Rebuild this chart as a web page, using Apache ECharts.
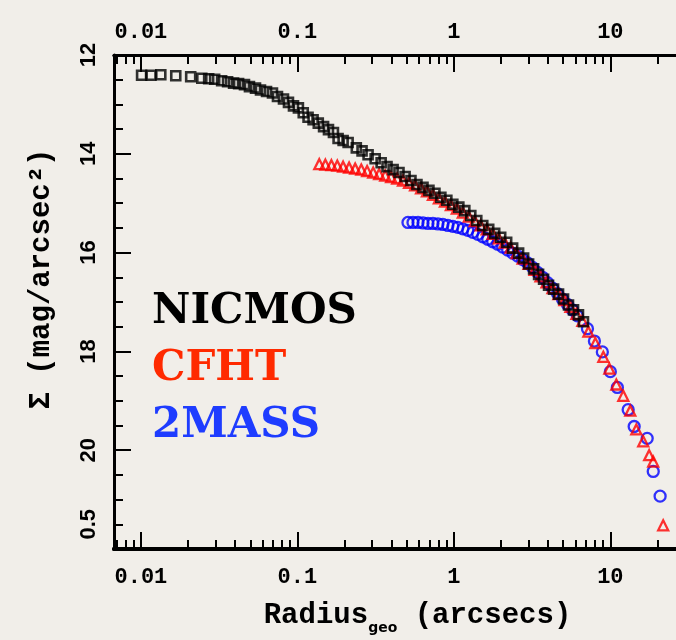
<!DOCTYPE html>
<html>
<head>
<meta charset="utf-8">
<script src="https://cdn.jsdelivr.net/npm/echarts@6/dist/echarts.min.js"></script>
<style>
  html, body { margin: 0; padding: 0; overflow: hidden; background: #f1eee9; }
  #chart { width: 700px; height: 640px; }
</style>
</head>
<body>
<div id="chart"></div>
<script>
// radius (arcsec) and surface brightness (mag/arcsec^2)
const nicmosR = [0.0101, 0.0116, 0.0134, 0.0167, 0.0208, 0.0245, 0.0271, 0.0296, 0.0328, 0.0358,
  0.0391, 0.0421, 0.0459, 0.0494, 0.0540, 0.0581, 0.0635, 0.0693, 0.0746, 0.0815,
  0.0877, 0.0944, 0.1015, 0.109, 0.117, 0.126, 0.136, 0.147, 0.158, 0.170,
  0.182, 0.196, 0.211, 0.238, 0.259, 0.283, 0.314, 0.343, 0.374, 0.409,
  0.446, 0.488, 0.532, 0.581, 0.635, 0.693, 0.757, 0.826, 0.902, 0.985,
  1.076, 1.175, 1.283, 1.401, 1.530, 1.670, 1.824, 1.992, 2.175, 2.375,
  2.593, 2.791, 3.004, 3.233, 3.479, 3.744, 4.029, 4.336, 4.666, 5.021,
  5.403, 5.815, 6.258, 6.734]
const nicmosMu = [12.41, 12.41, 12.40, 12.42, 12.44, 12.47, 12.48, 12.49, 12.52, 12.54,
  12.57, 12.58, 12.60, 12.64, 12.67, 12.71, 12.74, 12.77, 12.84, 12.89,
  12.96, 13.03, 13.07, 13.17, 13.26, 13.31, 13.38, 13.45, 13.51, 13.57,
  13.69, 13.73, 13.77, 13.88, 13.94, 14.02, 14.10, 14.18, 14.26, 14.32,
  14.38, 14.46, 14.54, 14.62, 14.68, 14.74, 14.80, 14.88, 14.94, 15.02,
  15.08, 15.15, 15.25, 15.35, 15.45, 15.53, 15.61, 15.69, 15.79, 15.91,
  16.01, 16.11, 16.23, 16.33, 16.44, 16.54, 16.66, 16.74, 16.84, 16.94,
  17.06, 17.16, 17.26, 17.40]

const cfhtR = [0.138, 0.151, 0.165, 0.180, 0.196, 0.214, 0.234, 0.256, 0.279, 0.305,
  0.333, 0.364, 0.397, 0.434, 0.473, 0.517, 0.565, 0.617, 0.673, 0.735,
  0.802, 0.877, 0.957, 1.045, 1.141, 1.246, 1.360, 1.486, 1.622, 1.772,
  1.934, 2.113, 2.306, 2.518, 2.750, 3.003, 3.279, 3.580, 3.910, 4.270,
  4.662, 5.090, 5.558, 6.069, 6.627, 7.24, 8.02, 9.02, 9.86, 10.92,
  12.10, 13.41, 14.65, 16.22, 17.71, 18.79, 21.76]
const cfhtMu = [14.21, 14.22, 14.23, 14.24, 14.26, 14.28, 14.30, 14.32, 14.35, 14.38,
  14.41, 14.44, 14.47, 14.50, 14.54, 14.59, 14.64, 14.70, 14.76, 14.83,
  14.90, 14.97, 15.04, 15.11, 15.19, 15.27, 15.36, 15.45, 15.53, 15.62,
  15.71, 15.80, 15.90, 16.01, 16.12, 16.23, 16.35, 16.48, 16.60, 16.72,
  16.84, 16.96, 17.10, 17.24, 17.38, 17.60, 17.83, 18.11, 18.35, 18.67,
  18.90, 19.20, 19.58, 19.82, 20.10, 20.23, 21.52]

const twomassR = [0.509, 0.548, 0.590, 0.635, 0.683, 0.735, 0.791, 0.851, 0.916, 0.985,
  1.060, 1.141, 1.228, 1.321, 1.422, 1.530, 1.647, 1.772, 1.907, 2.052,
  2.208, 2.375, 2.556, 2.750, 2.959, 3.185, 3.427, 3.688, 3.968, 4.270,
  4.595, 4.944, 5.320, 5.725, 6.160, 7.14, 7.91, 8.89, 10.0, 11.09,
  13.0, 14.2, 17.2, 18.8, 20.8]
const twomassMu = [15.39, 15.39, 15.39, 15.40, 15.41, 15.41, 15.42, 15.43, 15.45, 15.47,
  15.49, 15.52, 15.55, 15.59, 15.63, 15.68, 15.73, 15.78, 15.83, 15.89,
  15.95, 16.01, 16.07, 16.14, 16.21, 16.30, 16.40, 16.50, 16.61, 16.72,
  16.83, 16.94, 17.05, 17.16, 17.28, 17.54, 17.79, 18.01, 18.41, 18.73,
  19.18, 19.52, 19.76, 20.43, 20.93]

const minorR = [0.007, 0.008, 0.009, 0.02, 0.03, 0.04, 0.05, 0.06, 0.07, 0.08, 0.09,
  0.2, 0.3, 0.4, 0.5, 0.6, 0.7, 0.8, 0.9, 2, 3, 4, 5, 6, 7, 8, 9, 20]
const muLabels = [12, 14, 16, 18, 20, 21.5]

const xMin = 0.00673
const xMax = 30
const monoFont = '"Liberation Mono", "DejaVu Sans Mono", monospace'

function pairs(xs, ys) {
  return xs.map((x, i) => [x, ys[i]])
}

function logAxis(position, major) {
  return {
    type: 'log',
    position,
    min: xMin,
    max: xMax,
    axisLine: { show: true, lineStyle: { color: '#000', width: position === 'bottom' ? 4 : 3 } },
    axisTick: major
      ? { show: true, inside: true, length: 17, lineStyle: { color: '#000', width: 2 } }
      : { show: true, inside: true, length: 9, customValues: minorR, lineStyle: { color: '#000', width: 2 } },
    axisLabel: major
      ? {
          show: true,
          showMinLabel: false,
          showMaxLabel: false,
          margin: position === 'bottom' ? 17 : 12,
          color: '#000',
          fontSize: 22,
          fontWeight: 'bold',
          fontFamily: monoFont
        }
      : { show: false },
    splitLine: { show: false }
  }
}

const chart = echarts.init(document.getElementById('chart'))

const bottomAxis = logAxis('bottom', true)
bottomAxis.name = '{m|Radius}{s|geo}{m| (arcsecs)}'
bottomAxis.nameLocation = 'middle'
bottomAxis.nameGap = 48
bottomAxis.nameTextStyle = {
  padding: [0, 0, 0, 36],
  rich: {
    m: { fontSize: 29, fontWeight: 'bold', fontFamily: monoFont, color: '#000' },
    s: { fontSize: 14, fontWeight: 'bold', fontFamily: '"DejaVu Sans", sans-serif', color: '#000', verticalAlign: 'bottom', padding: [24, 0, 0, 0] }
  }
}

chart.setOption({
  backgroundColor: '#f1eee9',
  animation: false,
  grid: { left: 114, top: 55, width: 571, height: 496 },
  legend: {
    orient: 'vertical',
    left: 147,
    top: 291,
    padding: 0,
    itemGap: 15,
    itemWidth: 0,
    icon: 'none',
    selectedMode: false,
    textStyle: { fontSize: 42, fontWeight: 'bold', fontFamily: '"DejaVu Serif", serif' },
    data: [
      { name: 'NICMOS', textStyle: { color: '#000' } },
      { name: 'CFHT', textStyle: { color: '#ff2a00' } },
      { name: '2MASS', textStyle: { color: '#1e3cff' } }
    ]
  },
  xAxis: [
    bottomAxis,
    logAxis('bottom', false),
    logAxis('top', true),
    logAxis('top', false)
  ],
  yAxis: {
    type: 'value',
    inverse: true,
    min: 12,
    max: 22,
    interval: 2,
    name: 'Σ (mag/arcsec²)',
    nameLocation: 'middle',
    nameGap: 58,
    nameTextStyle: { fontSize: 29, fontWeight: 'bold', fontFamily: monoFont, color: '#000', padding: [0, 0, 0, 46] },
    axisLine: { show: true, lineStyle: { color: '#000', width: 3 } },
    axisTick: { show: true, inside: true, length: 17, lineStyle: { color: '#000', width: 2 } },
    minorTick: { show: true, splitNumber: 4, length: 9, lineStyle: { color: '#000', width: 2 } },
    axisLabel: {
      customValues: muLabels,
      rotate: 90,
      margin: 14,
      color: '#000',
      fontSize: 22,
      fontWeight: 'bold',
      fontFamily: '"Liberation Sans", Arial, sans-serif',
      formatter: (v) => (v === 21.5 ? '0.5' : String(v))
    },
    splitLine: { show: false }
  },
  series: [
    {
      name: '2MASS',
      type: 'scatter',
      silent: true,
      symbol: 'circle',
      symbolSize: 11,
      itemStyle: { color: 'rgba(0,0,0,0)', borderColor: '#0000ff', borderWidth: 2.3 },
      data: pairs(twomassR, twomassMu)
    },
    {
      name: 'CFHT',
      type: 'scatter',
      silent: true,
      symbol: 'triangle',
      symbolSize: 10,
      itemStyle: { color: 'rgba(0,0,0,0)', borderColor: '#ff0000', borderWidth: 2.3 },
      data: pairs(cfhtR, cfhtMu)
    },
    {
      name: 'NICMOS',
      type: 'scatter',
      silent: true,
      symbol: 'rect',
      symbolSize: 9,
      itemStyle: { color: 'rgba(0,0,0,0)', borderColor: '#000', borderWidth: 2.6 },
      data: pairs(nicmosR, nicmosMu)
    }
  ]
})
</script>
</body>
</html>
